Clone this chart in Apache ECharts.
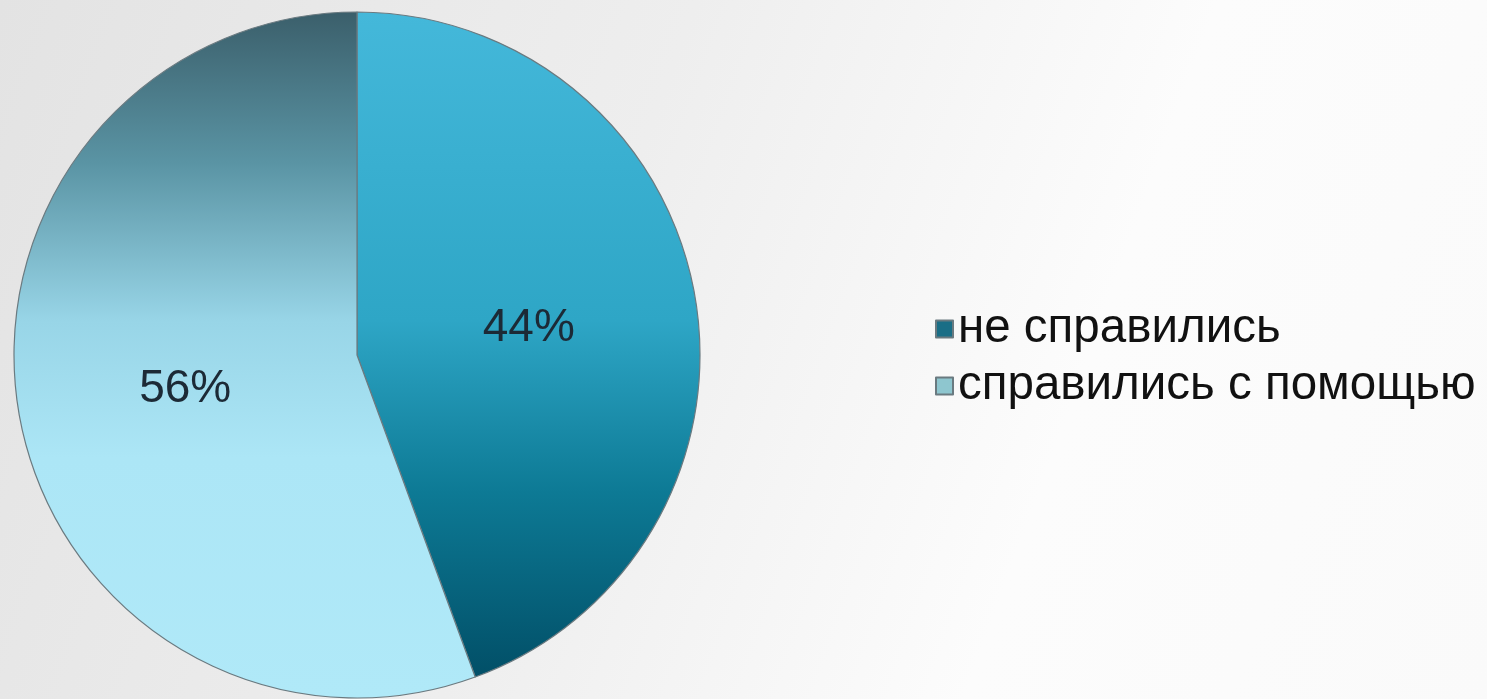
<!DOCTYPE html>
<html><head><meta charset="utf-8">
<script src="https://cdn.jsdelivr.net/npm/echarts@6/dist/echarts.min.js"></script>
<style>
html,body{margin:0;padding:0;width:1487px;height:699px;overflow:hidden;}
body{background:linear-gradient(110deg,#e3e3e3 0%,#eeeeee 40%,#fcfcfc 70%,#fafafa 100%);}
#c{width:1487px;height:699px;}
</style></head>
<body><div id="c"></div>
<script>
const categories = ['не справились', 'справились с помощью'];
const values = [44.4, 55.6];
const labels = ['44%', '56%'];

const chart = echarts.init(document.getElementById('c'), null, {renderer:'canvas'});
const grad1 = new echarts.graphic.LinearGradient(0, 12, 0, 698, [
  {offset:0, color:'#44b8da'},
  {offset:0.45, color:'#2ea6c6'},
  {offset:0.7, color:'#0d7a95'},
  {offset:1, color:'#004a62'}
], true);
const grad2 = new echarts.graphic.LinearGradient(0, 12, 0, 698, [
  {offset:0, color:'#3b5f6b'},
  {offset:0.22, color:'#5a94a4'},
  {offset:0.45, color:'#98d5e7'},
  {offset:0.65, color:'#ace6f6'},
  {offset:1, color:'#b0e9f8'}
], true);
const fills = [grad1, grad2];
const legendColors = ['#1a6e86', '#8ec6cf'];

chart.setOption({
  animation:false,
  legend:{
    orient:'vertical', left:935, top:305, padding:0,
    icon:'rect', itemWidth:17, itemHeight:17, itemGap:9,
    textStyle:{fontFamily:'Liberation Sans, Arial, sans-serif', fontSize:47.5, color:'#111', lineHeight:48},
    data: categories.map((n,i)=>({name:n, itemStyle:{color:legendColors[i]}}))
  },
  series:[{
    type:'pie',
    center:[357,355], radius:[0,343],
    startAngle:90, clockwise:true,
    label:{position:'inside', fontFamily:'Liberation Sans, Arial, sans-serif', fontSize:46, color:'#1c2a36',
      offset:[0,4],
      formatter:(p)=>labels[p.dataIndex]},
    labelLine:{show:false},
    emphasis:{disabled:true},
    itemStyle:{borderColor:'#6a7a80', borderWidth:1.2},
    data: categories.map((n,i)=>({name:n, value:values[i], itemStyle:{color:fills[i]}}))
  }]
});
</script></body></html>
